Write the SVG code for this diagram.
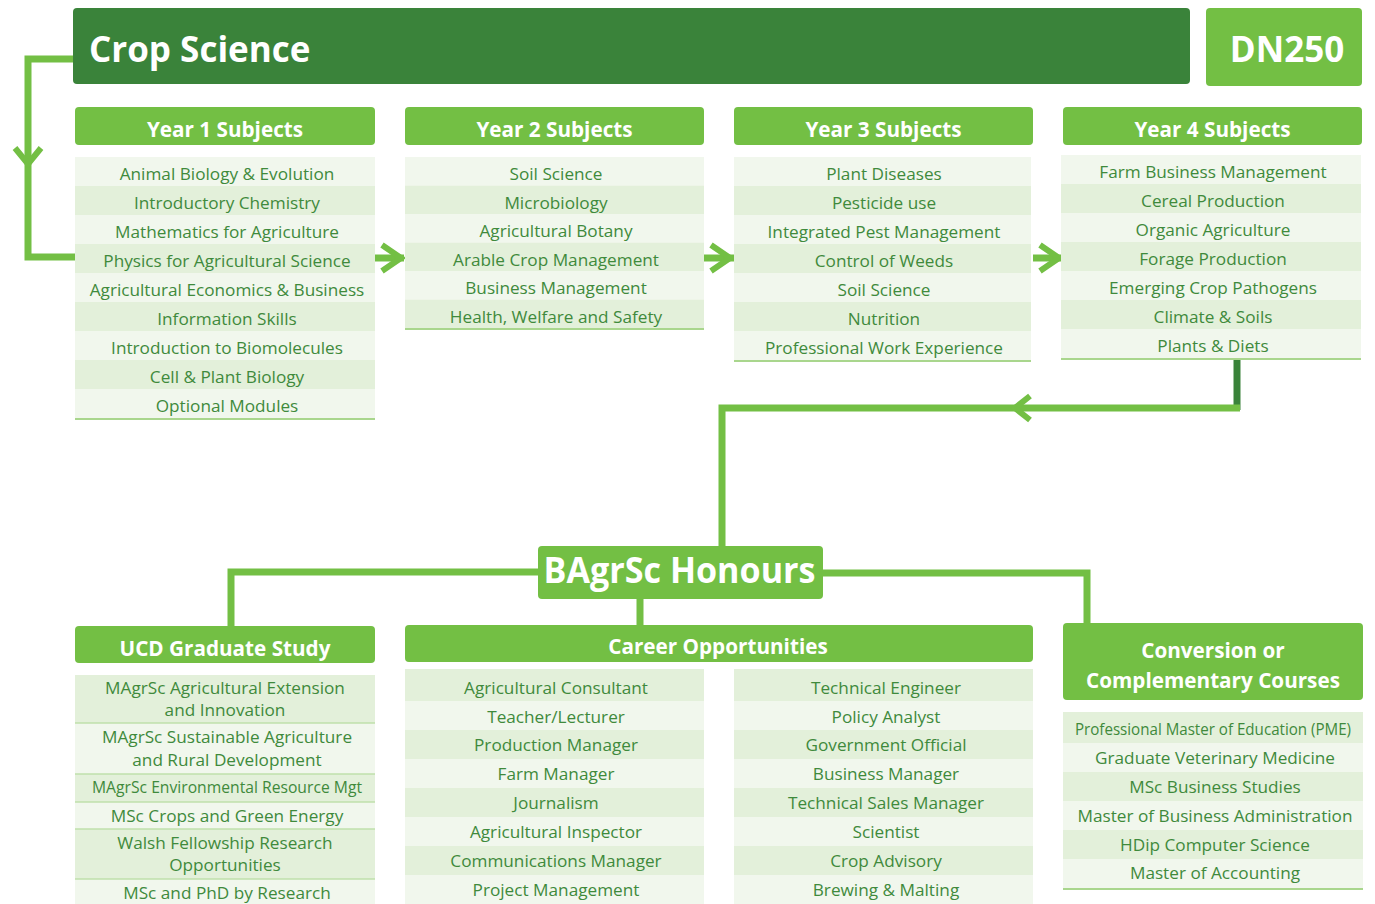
<svg xmlns="http://www.w3.org/2000/svg" width="1375" height="904" viewBox="0 0 1375 904">
<style>
text{font-family:"Open Sans","Liberation Sans",sans-serif}
.hd{fill:#73bf44}
.dk{fill:#3a833a}
.ht{fill:#fff;font-weight:bold;font-size:20.7px;text-anchor:middle}
.bt{fill:#fff;font-weight:bold;font-size:35px}
.t{fill:#3f8a3c;font-size:17.2px;text-anchor:middle}
.l{fill:#f1f7ed}
.d{fill:#e3f0da}
.bl{fill:#a9d68d}
.sep{stroke:#bfe0ab;stroke-width:1.5}
.ln{fill:none;stroke:#73bf44;stroke-width:7}
.ar{fill:none;stroke:#73bf44;stroke-width:6}
</style>

<g id="connectors">
  <polyline class="ln" points="74,59 28,59 28,257 76,257"/>
  <polyline class="ar" points="15,148 28,164 41,148"/>
  <line class="ln" x1="375" y1="258" x2="404" y2="258"/>
  <polyline class="ar" points="382,245 401,258 382,271"/>
  <line class="ln" x1="704" y1="258" x2="734" y2="258"/>
  <polyline class="ar" points="711,245 730,258 711,271"/>
  <line class="ln" x1="1033" y1="258" x2="1062" y2="258"/>
  <polyline class="ar" points="1040,245 1059,258 1040,271"/>
  <line x1="1237" y1="360" x2="1237" y2="410" stroke="#3a833a" stroke-width="7"/>
  <polyline class="ln" points="1240,408 722,408 722,547"/>
  <polyline class="ar" points="1030,396 1015,408 1030,420"/>
  <polyline class="ln" points="539,572 231,572 231,627"/>
  <polyline class="ln" points="822,573 1087,573 1087,624"/>
  <line class="ln" x1="640" y1="598" x2="640" y2="626"/>
</g>

<g id="title">
  <rect class="dk" x="73" y="8" width="1117" height="76" rx="4"/>
  <text class="bt" x="89" y="62">Crop Science</text>
</g>
<g id="code">
  <rect class="hd" x="1206" y="8" width="156" height="78" rx="4"/>
  <text class="bt" x="1287" y="62" text-anchor="middle">DN250</text>
</g>

<g id="year1">
  <rect class="hd" x="75" y="107" width="300" height="38" rx="4"/>
  <text class="ht" x="225" y="137">Year 1 Subjects</text>
  <rect class="l" x="75" y="157" width="300" height="29"/>
  <rect class="d" x="75" y="186" width="300" height="29"/>
  <rect class="l" x="75" y="215" width="300" height="29"/>
  <rect class="d" x="75" y="244" width="300" height="29"/>
  <rect class="l" x="75" y="273" width="300" height="29"/>
  <rect class="d" x="75" y="302" width="300" height="29"/>
  <rect class="l" x="75" y="331" width="300" height="29"/>
  <rect class="d" x="75" y="360" width="300" height="29"/>
  <rect class="l" x="75" y="389" width="300" height="29"/>
  <rect class="bl" x="75" y="418" width="300" height="2"/>
  <text class="t" x="227" y="180">Animal Biology &amp; Evolution</text>
  <text class="t" x="227" y="209">Introductory Chemistry</text>
  <text class="t" x="227" y="238">Mathematics for Agriculture</text>
  <text class="t" x="227" y="267">Physics for Agricultural Science</text>
  <text class="t" x="227" y="296">Agricultural Economics &amp; Business</text>
  <text class="t" x="227" y="325">Information Skills</text>
  <text class="t" x="227" y="354">Introduction to Biomolecules</text>
  <text class="t" x="227" y="383">Cell &amp; Plant Biology</text>
  <text class="t" x="227" y="412">Optional Modules</text>
</g>

<g id="year2">
  <rect class="hd" x="405" y="107" width="299" height="38" rx="4"/>
  <text class="ht" x="554.5" y="137">Year 2 Subjects</text>
  <rect class="l" x="405" y="157" width="299" height="28.5"/>
  <rect class="d" x="405" y="185.5" width="299" height="28.5"/>
  <rect class="l" x="405" y="214" width="299" height="28.5"/>
  <rect class="d" x="405" y="242.5" width="299" height="28.5"/>
  <rect class="l" x="405" y="271" width="299" height="28.5"/>
  <rect class="d" x="405" y="299.5" width="299" height="28.5"/>
  <rect class="bl" x="405" y="328" width="299" height="2"/>
  <text class="t" x="556" y="180">Soil Science</text>
  <text class="t" x="556" y="208.5">Microbiology</text>
  <text class="t" x="556" y="237">Agricultural Botany</text>
  <text class="t" x="556" y="265.5">Arable Crop Management</text>
  <text class="t" x="556" y="294">Business Management</text>
  <text class="t" x="556" y="322.5">Health, Welfare and Safety</text>
</g>

<g id="year3">
  <rect class="hd" x="734" y="107" width="299" height="38" rx="4"/>
  <text class="ht" x="883.5" y="137">Year 3 Subjects</text>
  <rect class="l" x="734" y="157" width="297" height="29"/>
  <rect class="d" x="734" y="186" width="297" height="29"/>
  <rect class="l" x="734" y="215" width="297" height="29"/>
  <rect class="d" x="734" y="244" width="297" height="29"/>
  <rect class="l" x="734" y="273" width="297" height="29"/>
  <rect class="d" x="734" y="302" width="297" height="29"/>
  <rect class="l" x="734" y="331" width="297" height="29"/>
  <rect class="bl" x="734" y="360" width="297" height="2"/>
  <text class="t" x="884" y="180">Plant Diseases</text>
  <text class="t" x="884" y="209">Pesticide use</text>
  <text class="t" x="884" y="238">Integrated Pest Management</text>
  <text class="t" x="884" y="267">Control of Weeds</text>
  <text class="t" x="884" y="296">Soil Science</text>
  <text class="t" x="884" y="325">Nutrition</text>
  <text class="t" x="884" y="354">Professional Work Experience</text>
</g>

<g id="year4">
  <rect class="hd" x="1063" y="107" width="299" height="38" rx="4"/>
  <text class="ht" x="1212.5" y="137">Year 4 Subjects</text>
  <rect class="l" x="1061" y="155" width="300" height="29"/>
  <rect class="d" x="1061" y="184" width="300" height="29"/>
  <rect class="l" x="1061" y="213" width="300" height="29"/>
  <rect class="d" x="1061" y="242" width="300" height="29"/>
  <rect class="l" x="1061" y="271" width="300" height="29"/>
  <rect class="d" x="1061" y="300" width="300" height="29"/>
  <rect class="l" x="1061" y="329" width="300" height="29"/>
  <rect class="bl" x="1061" y="358" width="300" height="2"/>
  <text class="t" x="1213" y="178">Farm Business Management</text>
  <text class="t" x="1213" y="207">Cereal Production</text>
  <text class="t" x="1213" y="236">Organic Agriculture</text>
  <text class="t" x="1213" y="265">Forage Production</text>
  <text class="t" x="1213" y="294">Emerging Crop Pathogens</text>
  <text class="t" x="1213" y="323">Climate &amp; Soils</text>
  <text class="t" x="1213" y="352">Plants &amp; Diets</text>
</g>

<g id="honours">
  <rect class="hd" x="538" y="546" width="285" height="53" rx="4"/>
  <text class="bt" x="679.5" y="583" text-anchor="middle" font-size="36" textLength="272" lengthAdjust="spacingAndGlyphs">BAgrSc Honours</text>
</g>

<g id="ucd">
  <rect class="hd" x="75" y="626" width="300" height="37" rx="4"/>
  <text class="ht" x="225" y="656" font-size="21.5">UCD Graduate Study</text>
  <rect class="d" x="75" y="675" width="300" height="48"/>
  <rect class="l" x="75" y="723" width="300" height="51"/>
  <rect class="d" x="75" y="774" width="300" height="28"/>
  <rect class="l" x="75" y="802" width="300" height="27"/>
  <rect class="d" x="75" y="829" width="300" height="50"/>
  <rect class="l" x="75" y="879" width="300" height="25"/>
  <line class="sep" x1="75" y1="723" x2="375" y2="723"/>
  <line class="sep" x1="75" y1="774" x2="375" y2="774"/>
  <line class="sep" x1="75" y1="802" x2="375" y2="802"/>
  <line class="sep" x1="75" y1="829" x2="375" y2="829"/>
  <line class="sep" x1="75" y1="879" x2="375" y2="879"/>
  <text class="t" x="225" y="694">MAgrSc Agricultural Extension</text>
  <text class="t" x="225" y="716">and Innovation</text>
  <text class="t" x="227" y="743">MAgrSc Sustainable Agriculture</text>
  <text class="t" x="227" y="766">and Rural Development</text>
  <text class="t" x="227" y="793" textLength="270" lengthAdjust="spacingAndGlyphs">MAgrSc Environmental Resource Mgt</text>
  <text class="t" x="227" y="822">MSc Crops and Green Energy</text>
  <text class="t" x="225" y="849">Walsh Fellowship Research</text>
  <text class="t" x="225" y="871">Opportunities</text>
  <text class="t" x="227" y="899">MSc and PhD by Research</text>
</g>

<g id="careers">
  <rect class="hd" x="405" y="625" width="628" height="37" rx="4"/>
  <text class="ht" x="718" y="654">Career Opportunities</text>
  <rect class="d" x="405" y="669" width="299" height="32"/>
  <rect class="l" x="405" y="701" width="299" height="29"/>
  <rect class="d" x="405" y="730" width="299" height="29"/>
  <rect class="l" x="405" y="759" width="299" height="29"/>
  <rect class="d" x="405" y="788" width="299" height="29"/>
  <rect class="l" x="405" y="817" width="299" height="29"/>
  <rect class="d" x="405" y="846" width="299" height="29"/>
  <rect class="l" x="405" y="875" width="299" height="29"/>
  <rect class="d" x="734" y="669" width="299" height="32"/>
  <rect class="l" x="734" y="701" width="299" height="29"/>
  <rect class="d" x="734" y="730" width="299" height="29"/>
  <rect class="l" x="734" y="759" width="299" height="29"/>
  <rect class="d" x="734" y="788" width="299" height="29"/>
  <rect class="l" x="734" y="817" width="299" height="29"/>
  <rect class="d" x="734" y="846" width="299" height="29"/>
  <rect class="l" x="734" y="875" width="299" height="29"/>
  <text class="t" x="556" y="694">Agricultural Consultant</text>
  <text class="t" x="556" y="723">Teacher/Lecturer</text>
  <text class="t" x="556" y="751">Production Manager</text>
  <text class="t" x="556" y="780">Farm Manager</text>
  <text class="t" x="556" y="809">Journalism</text>
  <text class="t" x="556" y="838">Agricultural Inspector</text>
  <text class="t" x="556" y="867">Communications Manager</text>
  <text class="t" x="556" y="896">Project Management</text>
  <text class="t" x="886" y="694">Technical Engineer</text>
  <text class="t" x="886" y="723">Policy Analyst</text>
  <text class="t" x="886" y="751">Government Official</text>
  <text class="t" x="886" y="780">Business Manager</text>
  <text class="t" x="886" y="809">Technical Sales Manager</text>
  <text class="t" x="886" y="838">Scientist</text>
  <text class="t" x="886" y="867">Crop Advisory</text>
  <text class="t" x="886" y="896">Brewing &amp; Malting</text>
</g>

<g id="conversion">
  <rect class="hd" x="1063" y="623" width="300" height="77" rx="4"/>
  <text class="ht" x="1213" y="658">Conversion or</text>
  <text class="ht" x="1213" y="688">Complementary Courses</text>
  <rect class="d" x="1063" y="712" width="300" height="31"/>
  <rect class="l" x="1063" y="743" width="300" height="29"/>
  <rect class="d" x="1063" y="772" width="300" height="29"/>
  <rect class="l" x="1063" y="801" width="300" height="29"/>
  <rect class="d" x="1063" y="830" width="300" height="29"/>
  <rect class="l" x="1063" y="859" width="300" height="29"/>
  <rect class="bl" x="1063" y="888" width="300" height="2"/>
  <text class="t" transform="translate(1213,735) scale(0.88,1)">Professional Master of Education (PME)</text>
  <text class="t" x="1215" y="764">Graduate Veterinary Medicine</text>
  <text class="t" x="1215" y="793">MSc Business Studies</text>
  <text class="t" x="1215" y="822">Master of Business Administration</text>
  <text class="t" x="1215" y="851">HDip Computer Science</text>
  <text class="t" x="1215" y="879">Master of Accounting</text>
</g>
</svg>
